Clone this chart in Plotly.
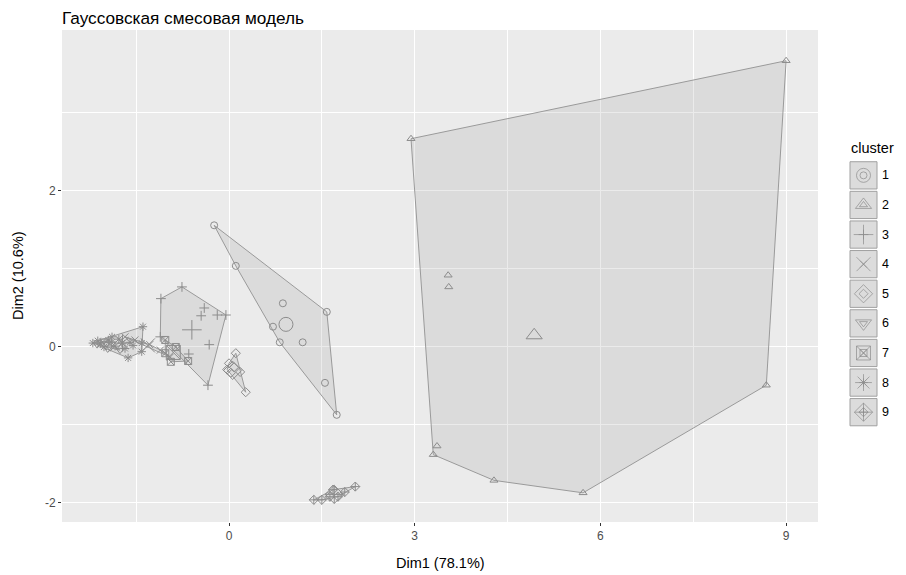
import plotly.graph_objects as go

# ---------------- data ----------------
clusters = ["1", "2", "3", "4", "5", "6", "7", "8", "9"]
c1_x = [-0.24, 0.11, 0.87, 0.71, 0.82, 1.19, 1.58, 1.55, 1.74]
c1_y = [1.56, 1.04, 0.56, 0.26, 0.06, 0.06, 0.45, -0.46, -0.87]
c2_x = [2.94, 9.00, 8.68, 5.72, 4.28, 3.30, 3.36, 3.54, 3.55]
c2_y = [2.67, 3.67, -0.49, -1.87, -1.71, -1.38, -1.27, 0.92, 0.77]
c3_x = [-0.76, -1.10, -0.05, -0.19, -0.40, -0.45, -0.32, -0.34, -0.65, -1.11]
c3_y = [0.77, 0.62, 0.41, 0.41, 0.50, 0.40, 0.03, -0.49, -0.09, 0.13]
c4_x = [-1.68, -1.52, -1.28, -1.11, -0.95]
c4_y = [0.13, 0.09, 0.03, -0.04, -0.13]
c5_x = [0.11, 0.00, 0.03, 0.18, 0.27, 0.08, -0.03]
c5_y = [-0.08, -0.21, -0.33, -0.32, -0.58, -0.26, -0.29]
c6_x = [-2.13, -2.02, -1.92, -1.76, -1.98]
c6_y = [0.03, 0.08, -0.01, -0.04, 0.04]
c7_x = [-1.03, -1.03, -0.94, -0.66, -0.86]
c7_y = [0.09, -0.08, -0.19, -0.18, 0.00]
c8_x = [-1.39, -1.63, -2.08, -1.95, -1.84, -1.73, -1.60, -1.41, -1.41, -2.20, -1.89,
        -2.02, -1.78, -1.68, -1.90, -1.55, -2.12]
c8_y = [0.26, -0.14, 0.04, 0.09, 0.01, 0.05, 0.06, 0.05, -0.06, 0.05, 0.13,
        0.00, 0.10, -0.02, 0.06, 0.02, 0.08]
c9_x = [1.37, 1.63, 1.68, 1.76, 1.87, 2.04, 1.50]
c9_y = [-1.96, -1.92, -1.83, -1.92, -1.86, -1.79, -1.96]
center_x = [0.92, 4.93, -0.60, -1.31, 0.06, -1.96, -0.90, -1.72, 1.70]
center_y = [0.29, 0.15, 0.22, 0.02, -0.30, 0.02, -0.07, 0.05, -1.89]

xs = [c1_x, c2_x, c3_x, c4_x, c5_x, c6_x, c7_x, c8_x, c9_x]
ys = [c1_y, c2_y, c3_y, c4_y, c5_y, c6_y, c7_y, c8_y, c9_y]

x_title = "Dim1 (78.1%)"
y_title = "Dim2 (10.6%)"
title = "Гауссовская смесовая модель"
x_ticks = [0, 3, 6, 9]
y_ticks = [-2, 0, 2]

# ---------------- style ----------------
symbols = ["circle-open", "triangle-up-open", "cross-thin-open", "x-thin-open",
           "diamond-open", "triangle-down-open", "square-x-open", "asterisk-open",
           "diamond-cross-open"]
PT = "#8c8c8c"
LN = "#9a9a9a"
FILL = "rgba(153,153,153,0.2)"
FONT = "Liberation Sans, Arial, sans-serif"

W, H = 906, 575
L, T, B = 62, 30, 53
PR = 818  # right edge of panel in px
plot_w = W - L
dom_main = (PR - L) / plot_w
X_RANGE = [-2.698, 9.515]
Y_RANGE = [-2.244, 4.064]


def hull(px, py):
    pts = sorted(set(zip(px, py)))
    if len(pts) < 3:
        return pts

    def cross(o, a, b):
        return (a[0] - o[0]) * (b[1] - o[1]) - (a[1] - o[1]) * (b[0] - o[0])

    lower, upper = [], []
    for p in pts:
        while len(lower) >= 2 and cross(lower[-2], lower[-1], p) <= 0:
            lower.pop()
        lower.append(p)
    for p in reversed(pts):
        while len(upper) >= 2 and cross(upper[-2], upper[-1], p) <= 0:
            upper.pop()
        upper.append(p)
    return lower[:-1] + upper[:-1]


fig = go.Figure()

for i, name in enumerate(clusters):
    h = hull(xs[i], ys[i])
    hx = [p[0] for p in h] + [h[0][0]]
    hy = [p[1] for p in h] + [h[0][1]]
    fig.add_trace(go.Scatter(x=hx, y=hy, mode="lines", fill="toself",
                             fillcolor=FILL, line=dict(color=LN, width=1),
                             showlegend=False, hoverinfo="skip"))

for i, name in enumerate(clusters):
    fig.add_trace(go.Scatter(x=xs[i], y=ys[i], mode="markers", showlegend=False,
                             marker=dict(symbol=symbols[i], size=7, color=PT,
                                         line=dict(color=PT, width=1))))
    fig.add_trace(go.Scatter(x=[center_x[i]], y=[center_y[i]], mode="markers",
                             showlegend=False,
                             marker=dict(symbol=symbols[i], size=14, color=PT,
                                         line=dict(color=PT, width=1))))

# ---------------- manual legend (ggplot-like keys) ----------------
idx = list(range(1, len(clusters) + 1))
shapes = [dict(type="rect", xref="x domain", yref="y domain", x0=0, x1=1, y0=0, y1=1,
               fillcolor="#ebebeb", line=dict(width=0), layer="below")]
for v in idx:
    shapes.append(dict(type="rect", xref="x2", yref="y2", x0=850, x1=877,
                       y0=v - 0.46, y1=v + 0.46, fillcolor="#dcdcdc",
                       line=dict(color="#a0a0a0", width=1), layer="below"))
for i, v in enumerate(idx):
    fig.add_trace(go.Scatter(x=[863.5, 863.5], y=[v, v], mode="markers",
                             xaxis="x2", yaxis="y2", showlegend=False,
                             marker=dict(symbol=symbols[i], size=[7, 14], color=PT,
                                         line=dict(color=PT, width=1))))

annotations = [
    dict(text="cluster", xref="x2", yref="y2", x=849, y=0.08, xanchor="left",
         yanchor="middle", showarrow=False, font=dict(size=14.5, color="#000000")),
    dict(text=x_title, xref="paper", yref="paper", x=(440 - L) / plot_w,
         y=-(563 - (H - B)) / (H - T - B), xanchor="center", yanchor="middle",
         showarrow=False, font=dict(size=14.5, color="#000000")),
    dict(text=y_title, xref="paper", yref="paper", x=(18 - L) / plot_w, y=0.5,
         xanchor="center", yanchor="middle", textangle=-90, showarrow=False,
         font=dict(size=14.5, color="#000000")),
]
for i, v in enumerate(idx):
    annotations.append(dict(text=clusters[i], xref="x2", yref="y2", x=880, y=v,
                            xanchor="left", yanchor="middle", showarrow=False,
                            font=dict(size=12.5, color="#000000")))

fig.update_layout(
    width=W, height=H,
    margin=dict(l=L, r=0, t=T, b=B, pad=0),
    paper_bgcolor="white", plot_bgcolor="rgba(0,0,0,0)",
    font=dict(family=FONT),
    title=dict(text=title, x=L / W, xref="container", xanchor="left",
               y=1 - 18 / H, yref="container", yanchor="middle",
               font=dict(size=17.2, color="#000000")),
    xaxis=dict(domain=[0, dom_main], range=X_RANGE, tickvals=x_ticks,
               ticktext=[str(t) for t in x_ticks], showgrid=True, gridcolor="white",
               gridwidth=1.4, zeroline=False, ticks="outside", ticklen=3,
               tickcolor="#333333", tickfont=dict(size=12, color="#4d4d4d"),
               showline=False,
               minor=dict(tickvals=[-1.5, 1.5, 4.5, 7.5], showgrid=True,
                          gridcolor="white", gridwidth=0.6, ticks="")),
    yaxis=dict(domain=[0, 1], range=Y_RANGE, tickvals=y_ticks,
               ticktext=[str(t) for t in y_ticks], showgrid=True, gridcolor="white",
               gridwidth=1.4, zeroline=False, ticks="outside", ticklen=3,
               tickcolor="#333333", tickfont=dict(size=12, color="#4d4d4d"),
               showline=False,
               minor=dict(tickvals=[-1, 1, 3], showgrid=True,
                          gridcolor="white", gridwidth=0.6, ticks="")),
    xaxis2=dict(domain=[(845 - L) / plot_w, 1], range=[845, 906], visible=False,
                anchor="y2"),
    yaxis2=dict(domain=[0, 1], range=[12.71, -3.91], visible=False, anchor="x2"),
    shapes=shapes,
    annotations=annotations,
)

fig.write_html("out.html", config={"displayModeBar": False},
               post_script="document.body.style.margin='0';document.body.style.overflow='hidden';")
